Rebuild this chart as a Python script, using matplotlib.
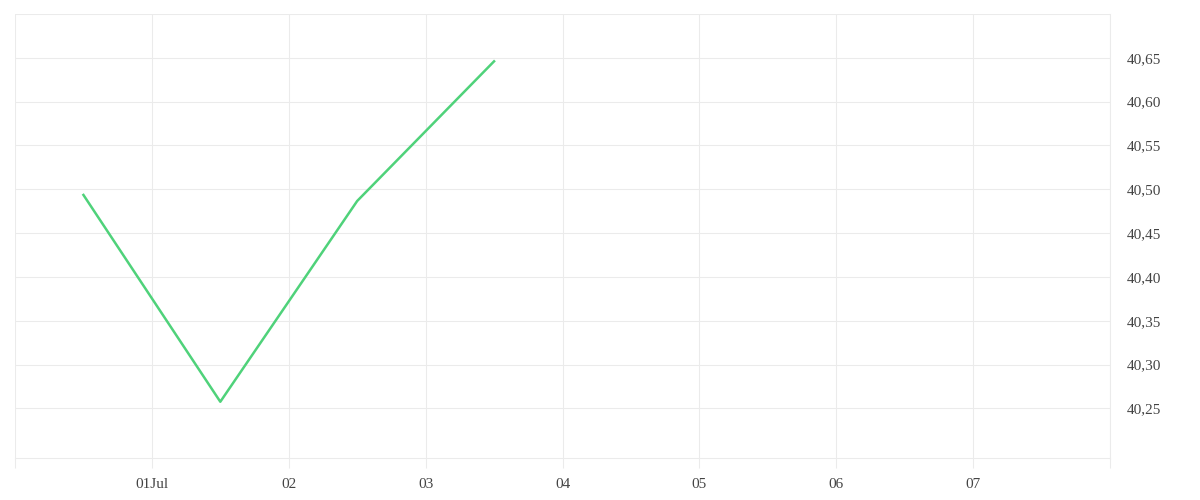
import matplotlib
matplotlib.use("Agg")
import matplotlib.pyplot as plt
import datetime as dt

# data (midday points)
dates = [dt.datetime(2024, 6, 30, 12), dt.datetime(2024, 7, 1, 12),
         dt.datetime(2024, 7, 2, 12), dt.datetime(2024, 7, 3, 12)]
values = [40.4935, 40.2575, 40.4866, 40.646]

day_ticks = [dt.datetime(2024, 6, 30) + dt.timedelta(days=i) for i in range(9)]
day_labels = ["", "01Jul", "02", "03", "04", "05", "06", "07", ""]
y_ticks = [40.25, 40.30, 40.35, 40.40, 40.45, 40.50, 40.55, 40.60, 40.65, 40.70]
y_labels = ["40,25", "40,30", "40,35", "40,40", "40,45", "40,50", "40,55", "40,60", "40,65", ""]

grid_col = "#ebebeb"
text_col = "#444444"

plt.rcParams['font.family'] = ['Liberation Serif', 'DejaVu Serif']

fig = plt.figure(figsize=(12, 5), dpi=100)
ax = fig.add_axes([15/1200, 42/500, 1095/1200, 444/500])

ax.plot(dates, values, color="#4fd27a", lw=1.8)

ax.set_xlim(day_ticks[0], day_ticks[-1])
ax.set_ylim(40.1933, 40.70)

ax.set_xticks(day_ticks)
ax.set_xticklabels(day_labels)
ax.set_yticks(y_ticks)
ax.set_yticklabels(y_labels, va="center_baseline")

ax.yaxis.tick_right()
ax.tick_params(axis="y", length=0, pad=12, labelsize=11, labelcolor=text_col)
ax.tick_params(axis="x", direction="out", length=7.2, width=0.75, color=grid_col,
               pad=7.5, labelsize=11, labelcolor=text_col)

ax.grid(True, color=grid_col, lw=0.75)
ax.set_axisbelow(True)
for s in ["top", "left"]:
    ax.spines[s].set_visible(False)
for s in ["bottom", "right"]:
    ax.spines[s].set_color(grid_col)
    ax.spines[s].set_linewidth(0.75)

fig.savefig("out.png", dpi=100)
